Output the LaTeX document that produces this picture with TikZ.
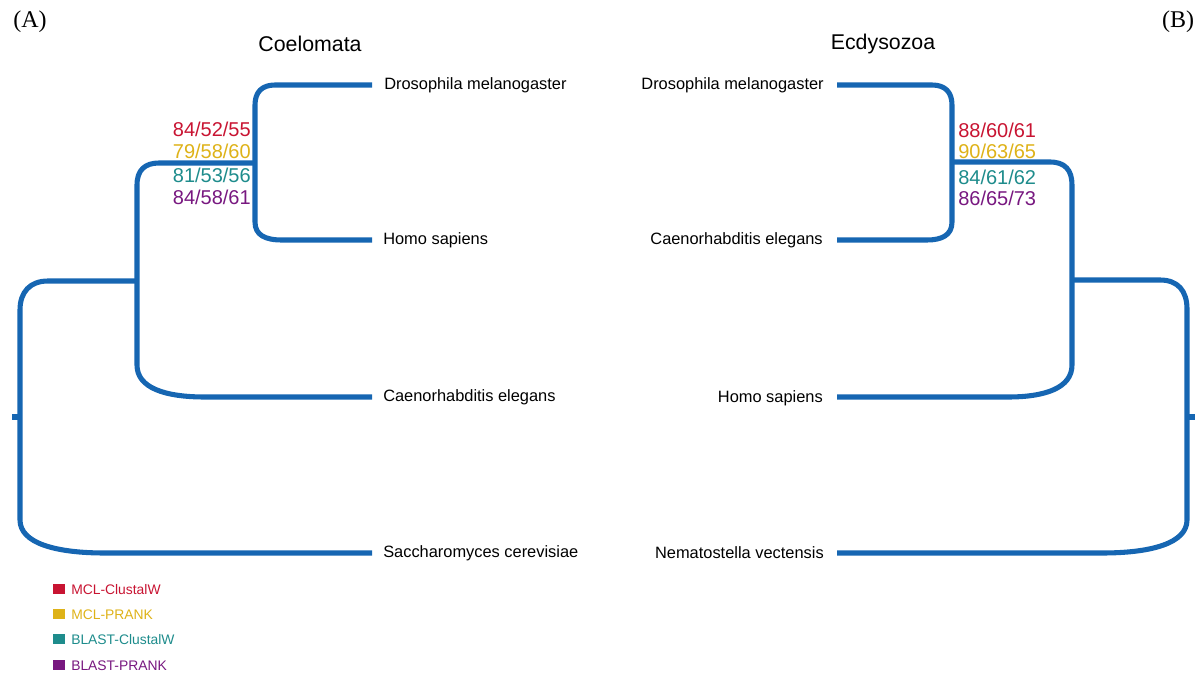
\documentclass[tikz,border=0pt]{standalone}
\usepackage{fontspec}
\setmainfont{Liberation Sans}
\newfontfamily\panelfont{Liberation Serif}
\definecolor{treeblue}{RGB}{22,102,178}
\definecolor{cred}{RGB}{200,20,50}
\definecolor{cgold}{RGB}{222,178,24}
\definecolor{cteal}{RGB}{30,140,140}
\definecolor{cpurple}{RGB}{120,24,128}
\tikzset{
  branch/.style={draw=treeblue, line width=3.8pt, line cap=butt, line join=round},
  leafL/.style={anchor=west, inner sep=0pt, font=\fontsize{12.3}{14}\selectfont},
  leafR/.style={anchor=east, inner sep=0pt, font=\fontsize{12.3}{14}\selectfont},
  support/.style={inner sep=0pt, font=\fontsize{15}{17}\selectfont},
  cladetitle/.style={inner sep=0pt, font=\fontsize{16}{18}\selectfont},
  panel/.style={inner sep=0pt, font=\panelfont\fontsize{18}{20}\selectfont},
  legsq/.style={fill=#1, draw=none, minimum width=8.5pt, minimum height=6.8pt, inner sep=0pt},
  legtxt/.style={anchor=west, inner sep=0pt, text=#1, font=\fontsize{10.4}{12}\selectfont},
}
\begin{document}
\begin{tikzpicture}[x=0.75pt,y=-0.75pt]
\useasboundingbox (0,0) rectangle (1203,674);

% panel labels and titles
\node[panel] (pA) at (30,22) {(A)};
\node[panel] (pB) at (1178,22) {(B)};
\node[cladetitle] (tA) at (310,44) {Coelomata};
\node[cladetitle] (tB) at (883,44) {Ecdysozoa};

% ---------------- Tree A ----------------
\node[leafL] (a1) at (384,85) {Drosophila melanogaster};
\node[leafL] (a2) at (383,240) {Homo sapiens};
\node[leafL] (a3) at (383,397) {Caenorhabditis elegans};
\node[leafL] (a4) at (383,553) {Saccharomyces cerevisiae};

\coordinate (a1t) at (372,85);
\coordinate (a2t) at (372,240);
\coordinate (a3t) at (372,397);
\coordinate (a4t) at (372,553);
\coordinate (nA1) at (255,163);
\coordinate (nA2) at (137,281);
\coordinate (rootA) at (20,417);
\coordinate (stubA) at (12,417);

\draw[branch] (a1t) -- (275,85) .. controls (262,85) and (255,92) .. (255,105)
  -- (255,222) .. controls (255,235) and (265,240) .. (282,240) -- (a2t);
\draw[branch] (nA1) -- (159,163) .. controls (145,163) and (137,170) .. (137,185)
  -- (137,365) .. controls (137,388) and (165,397) .. (205,397) -- (a3t);
\draw[branch] (nA2) -- (48,281) .. controls (30,281) and (20,292) .. (20,310)
  -- (20,520) .. controls (20,543) and (55,553) .. (105,553) -- (a4t);
\draw[branch] (stubA) -- (rootA);

\node[support, anchor=east, text=cred] (sA1) at (251,129) {84/52/55};
\node[support, anchor=east, text=cgold] (sA2) at (251,151) {79/58/60};
\node[support, anchor=east, text=cteal] (sA3) at (251,175) {81/53/56};
\node[support, anchor=east, text=cpurple] (sA4) at (251,197) {84/58/61};

% ---------------- Tree B ----------------
\node[leafR] (b1) at (824,85) {Drosophila melanogaster};
\node[leafR] (b2) at (823,240) {Caenorhabditis elegans};
\node[leafR] (b3) at (823,398) {Homo sapiens};
\node[leafR] (b4) at (824,553) {Nematostella vectensis};

\coordinate (b1t) at (837,85);
\coordinate (b2t) at (837,240);
\coordinate (b3t) at (837,397);
\coordinate (b4t) at (837,553);
\coordinate (nB1) at (952,162);
\coordinate (nB2) at (1072,280);
\coordinate (rootB) at (1187,417);
\coordinate (stubB) at (1195,417);

\draw[branch] (b1t) -- (932,85) .. controls (945,85) and (952,92) .. (952,105)
  -- (952,222) .. controls (952,235) and (942,240) .. (927,240) -- (b2t);
\draw[branch] (nB1) -- (1050,162) .. controls (1065,162) and (1072,170) .. (1072,185)
  -- (1072,365) .. controls (1072,388) and (1045,397) .. (1008,397) -- (b3t);
\draw[branch] (nB2) -- (1160,280) .. controls (1178,280) and (1187,291) .. (1187,309)
  -- (1187,520) .. controls (1187,543) and (1152,553) .. (1102,553) -- (b4t);
\draw[branch] (rootB) -- (stubB);

\node[support, anchor=west, text=cred] (sB1) at (958,130) {88/60/61};
\node[support, anchor=west, text=cgold] (sB2) at (958,151) {90/63/65};
\node[support, anchor=west, text=cteal] (sB3) at (958,177) {84/61/62};
\node[support, anchor=west, text=cpurple] (sB4) at (958,198) {86/65/73};

% ---------------- Legend ----------------
\node[legsq=cred] (q1) at (59,589) {};
\node[legsq=cgold] (q2) at (59,614) {};
\node[legsq=cteal] (q3) at (59,639) {};
\node[legsq=cpurple] (q4) at (59,665) {};
\node[legtxt=cred] (l1) at (71,590) {MCL-ClustalW};
\node[legtxt=cgold] (l2) at (71,615) {MCL-PRANK};
\node[legtxt=cteal] (l3) at (71,640) {BLAST-ClustalW};
\node[legtxt=cpurple] (l4) at (71,666) {BLAST-PRANK};
\end{tikzpicture}
\end{document}
